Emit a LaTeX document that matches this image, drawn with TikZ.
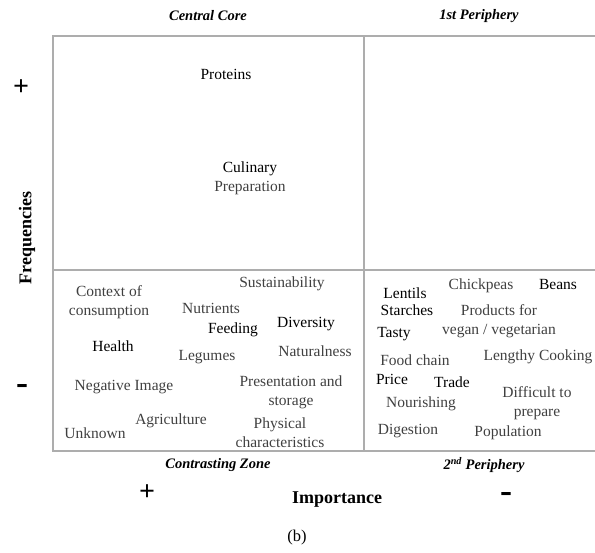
\documentclass[tikz,border=0pt]{standalone}
\usepackage{fontspec}
\setmainfont{Liberation Serif}
\usetikzlibrary{positioning}

\begin{document}
\begin{tikzpicture}[
    x=1pt, y=-1pt,
    grid/.style={draw=black!32, line width=1.3pt},
    zone/.style={font=\fontsize{14.5}{16}\selectfont\bfseries\itshape, inner sep=0},
    term/.style={font=\fontsize{15.5}{19}\selectfont, text=black!75, align=center, inner sep=0},
    termdk/.style={term, text=black},
    axis/.style={font=\fontsize{18}{20}\selectfont\bfseries, inner sep=0},
    sign/.style={font=\fontsize{28}{28}\selectfont\bfseries, inner sep=0},
    minussign/.style={font=\fontsize{36}{36}\selectfont\bfseries, inner sep=0},
  ]
  \useasboundingbox (0,0) rectangle (595,553);

  % quadrant frame
  \coordinate (tl) at (53,36);
  \coordinate (tm) at (364,36);
  \coordinate (tr) at (595,36);
  \coordinate (ml) at (53,270);
  \coordinate (mr) at (595,270);
  \coordinate (bl) at (53,451);
  \coordinate (bm) at (364,451);
  \coordinate (br) at (595,451);
  \draw[grid] (tr) -- (tl) -- (bl) -- (br);
  \draw[grid] (tm) -- (bm);
  \draw[grid] (ml) -- (mr);

  % zone titles
  \node[zone] (core) at (208,16) {Central Core};
  \node[zone] (per1) at (479,16) {1st Periphery};
  \node[zone] (contr) at (218,465) {Contrasting Zone};
  \node[zone] (per2) at (484,465) {2\textsuperscript{nd} Periphery};

  % axes
  \node[axis, rotate=90] (freq) at (27,238) {Frequencies};
  \node[sign] (fplus) at (21,88) {+};
  \node[minussign] (fminus) at (22,390) {-};
  \node[axis] (imp) at (337,500) {Importance};
  \node[sign] (iplus) at (147,493) {+};
  \node[minussign] (iminus) at (506,497) {-};
  \node[font=\fontsize{16.5}{18}\selectfont, inner sep=0] (cap) at (297,538) {(b)};

  % central core
  \node[termdk] (prot) at (226,74) {Proteins};
  \node[term] (culin) at (250,178) {\textcolor{black}{Culinary}\\Preparation};

  % contrasting zone
  \node[term] (ctx) at (109,302) {Context of\\consumption};
  \node[term] (sust) at (282,284) {Sustainability};
  \node[term] (nutr) at (211,308) {Nutrients};
  \node[termdk] (feed) at (233,330) {Feeding};
  \node[termdk] (div) at (306,324) {Diversity};
  \node[termdk] (health) at (113,346) {Health};
  \node[term] (leg) at (207,357) {Legumes};
  \node[term] (nat) at (315,351) {Naturalness};
  \node[term] (neg) at (124,387) {Negative Image};
  \node[term] (pres) at (291,392) {Presentation and\\storage};
  \node[term] (agri) at (171,421) {Agriculture};
  \node[term] (unk) at (95,433) {Unknown};
  \node[term] (phys) at (280,433) {Physical\\characteristics};

  % second periphery
  \node[termdk] (lent) at (405,293) {Lentils};
  \node[term] (chick) at (481,286) {Chickpeas};
  \node[termdk] (beans) at (558,285) {Beans};
  \node[termdk] (starch) at (407,310) {Starches};
  \node[term] (veg) at (499,321) {Products for\\vegan / vegetarian};
  \node[termdk] (tasty) at (394,334) {Tasty};
  \node[term] (chain) at (415,360) {Food chain};
  \node[term] (cook) at (538,357) {Lengthy Cooking};
  \node[termdk] (price) at (392,379) {Price};
  \node[termdk] (trade) at (452,382) {Trade};
  \node[term] (diff) at (537,403) {Difficult to\\prepare};
  \node[term] (nour) at (421,404) {Nourishing};
  \node[term] (dig) at (408,431) {Digestion};
  \node[term] (pop) at (508,433) {Population};
\end{tikzpicture}
\end{document}
